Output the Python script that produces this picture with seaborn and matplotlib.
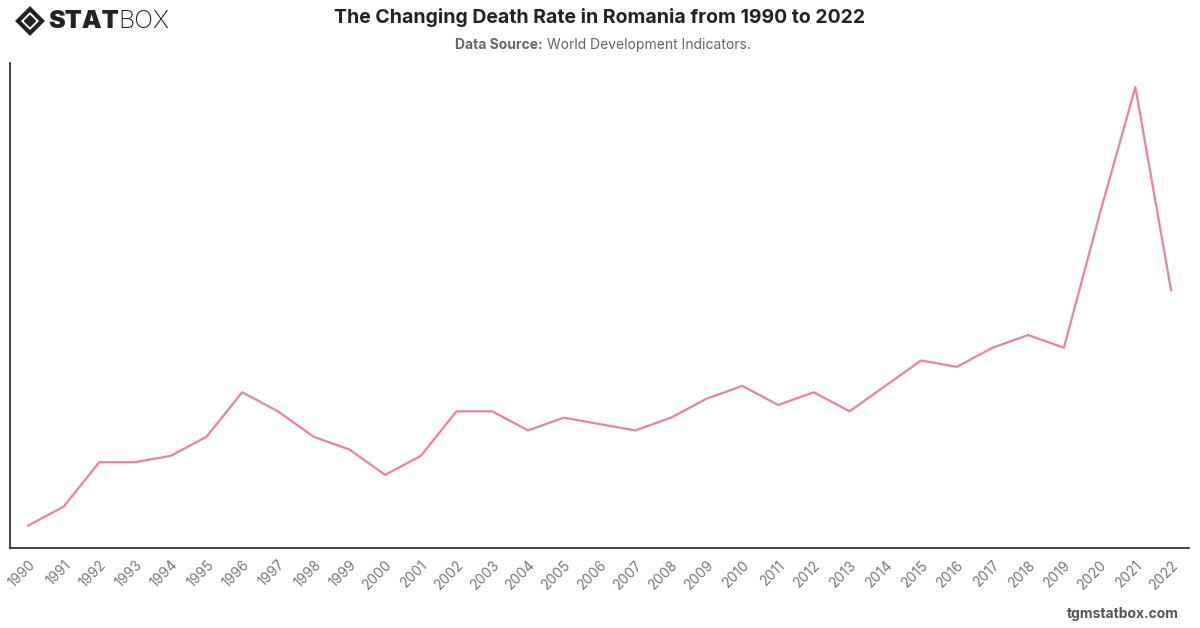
import pandas as pd
import matplotlib.pyplot as plt
import matplotlib.patches as mpatches
import seaborn as sns

sns.set_theme(style="white")
plt.rcParams["font.family"] = ["Inter", "DejaVu Sans"]

## DATA
years = list(range(1990, 2023))
death_rate = [10.6, 10.9, 11.6, 11.6, 11.7, 12.0, 12.7, 12.4, 12.0, 11.8,
              11.4, 11.7, 12.4, 12.4, 12.1, 12.3, 12.2, 12.1, 12.3, 12.6,
              12.8, 12.5, 12.7, 12.4, 12.8, 13.2, 13.1, 13.4, 13.6, 13.4,
              15.5, 17.5, 14.3]

df = pd.DataFrame({"year": [str(y) for y in years], "rate": death_rate})
df["idx"] = range(len(df))

W, H = 1200, 628
fig = plt.figure(figsize=(W / 100, H / 100), dpi=100)
ax = fig.add_axes([0.0083, 0.1274, 0.9825, 0.7723])

sns.lineplot(data=df, x="idx", y="rate", ax=ax, color="#f07fa8", linewidth=1.6)

ax.set_xlim(-0.5, len(df) - 0.5)
ax.set_ylim(10.25, 17.88)
ax.set_xticks(df["idx"])
ax.set_xticklabels(df["year"], rotation=45, ha="right", rotation_mode="anchor",
                   fontsize=10, color="#777777")
ax.tick_params(axis="x", length=0, pad=7)
ax.set_yticks([])
ax.set_xlabel("")
ax.set_ylabel("")
for s in ["top", "right"]:
    ax.spines[s].set_visible(False)
for s in ["left", "bottom"]:
    ax.spines[s].set_color("#222222")
    ax.spines[s].set_linewidth(1.2)

# header
fig.text(0.5, 0.972, "The Changing Death Rate in Romania from 1990 to 2022",
         ha="center", va="center", fontsize=14, fontweight="bold", color="#222222")
fig.text(0.4525, 0.929, "Data Source:", ha="right", va="center",
         fontsize=10, fontweight="bold", color="#666666")
fig.text(0.4555, 0.929, "World Development Indicators.", ha="left", va="center",
         fontsize=10, color="#666666")


# logo: diamond drawn in pixel units converted to figure fraction
def diamond(cx, cy, r, **kw):
    pts = [(cx / W, (H - cy + r) / H), ((cx + r) / W, (H - cy) / H),
           (cx / W, (H - cy - r) / H), ((cx - r) / W, (H - cy) / H)]
    p = mpatches.Polygon(pts, closed=True, transform=fig.transFigure, **kw)
    fig.add_artist(p)


diamond(30, 21, 12, facecolor="none", edgecolor="#222222", linewidth=3)
diamond(30, 21, 5.5, facecolor="#222222", edgecolor="#222222")
fig.text(48 / W, 1 - 21 / H, "STAT", ha="left", va="center", fontsize=18,
         fontweight="black", color="#222222")
fig.text(118 / W, 1 - 21 / H, "BOX", ha="left", va="center", fontsize=18,
         fontweight="light", color="#222222")

# footer
fig.text(0.982, 0.022, "tgmstatbox.com", ha="right", va="center",
         fontsize=10, fontweight="bold", color="#555555")

fig.savefig("out.png", dpi=100)
